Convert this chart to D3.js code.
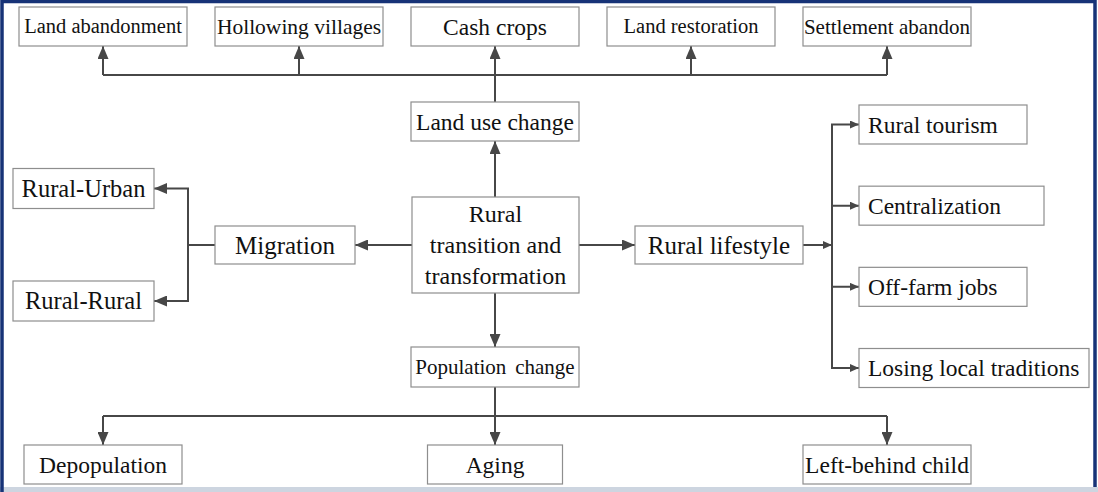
<!DOCTYPE html>
<html>
<head>
<meta charset="utf-8">
<script src="https://cdn.jsdelivr.net/npm/d3@7"></script>
<style>
  html, body { margin: 0; padding: 0; background: #fff; }
  svg { display: block; }
  .box rect { fill: #fff; stroke: #8e8e8e; stroke-width: 1.2; }
  .box text { font-family: "Liberation Serif", "Times New Roman", serif; fill: #111; text-anchor: middle; }
  .link { fill: none; stroke: #474747; stroke-width: 2; }
</style>
</head>
<body>
<svg id="chart" width="1098" height="492"></svg>
<script>
// labels
const rootLabel = ['Rural', 'transition and', 'transformation'];
const landUseLabel = 'Land use change';
const migrationLabel = 'Migration';
const lifestyleLabel = 'Rural lifestyle';
const populationLabel = 'Population change';
const landUseEffects = ['Land abandonment', 'Hollowing villages', 'Cash crops', 'Land restoration', 'Settlement abandon'];
const migrationTypes = ['Rural-Urban', 'Rural-Rural'];
const lifestyleEffects = ['Rural tourism', 'Centralization', 'Off-farm jobs', 'Losing local traditions'];
const populationEffects = ['Depopulation', 'Aging', 'Left-behind child'];
const populationCols = [0, 2, 4];   // which top column each bottom box sits under

const W = 1098, H = 492;
const svg = d3.select('#chart');

// layout scales
const colX = d3.scaleLinear().domain([0, landUseEffects.length - 1]).range([103, 887]);
const rightY = d3.scaleLinear().domain([0, lifestyleEffects.length - 1]).range([124.5, 368]);
const leftY = d3.scaleLinear().domain([0, migrationTypes.length - 1]).range([188.5, 301]);

const topW = [168, 168, 168, 168, 168];
const topFont = [20.5, 21.5, 23.5, 20.5, 21];
const rightW = [168, 185, 168, 230];
const bottomW = [158, 135, 168];

// frame
svg.append('rect').attr('x', 0).attr('y', 0).attr('width', W).attr('height', H).attr('fill', '#fff');
svg.append('rect').attr('x', 0).attr('y', 487).attr('width', W).attr('height', 5).attr('fill', '#cdd5e0');
svg.append('path')
	.attr('d', 'M2,492 V1.5 H1095 V487')
	.attr('fill', 'none')
	.attr('stroke', '#173377')
	.attr('stroke-width', 3.5);

// arrow markers
const defs = svg.append('defs');
function addMarker(id, len, wid) {
	defs.append('marker')
		.attr('id', id)
		.attr('markerUnits', 'userSpaceOnUse')
		.attr('viewBox', '0 0 ' + len + ' ' + wid)
		.attr('refX', len).attr('refY', wid / 2)
		.attr('markerWidth', len).attr('markerHeight', wid)
		.attr('orient', 'auto')
		.append('path')
		.attr('d', 'M0,0 L' + len + ',' + (wid / 2) + ' L0,' + wid + ' Z')
		.attr('fill', '#474747');
}
addMarker('arrow', 13, 11);
addMarker('arrowSmall', 9, 8);

// nodes: {label(s), cx, cy, w, h, font}
const nodes = [];
nodes.push({lines: rootLabel, cx: 495.5, cy: 245, w: 167, h: 96, font: 24});
nodes.push({lines: [landUseLabel], cx: 495, cy: 121.5, w: 168, h: 39, font: 23.5});
nodes.push({lines: [migrationLabel], cx: 285, cy: 245, w: 140, h: 38, font: 25});
nodes.push({lines: [lifestyleLabel], cx: 719, cy: 245, w: 168, h: 38, font: 25});
nodes.push({lines: [populationLabel], cx: 495, cy: 367, w: 168, h: 40, font: 21, spacing: 1.2});
landUseEffects.forEach((d, i) => nodes.push({lines: [d], cx: colX(i), cy: 26.5, w: topW[i], h: 39, font: topFont[i]}));
migrationTypes.forEach((d, i) => nodes.push({lines: [d], cx: 83.5, cy: leftY(i), w: 141, h: 40, font: 24.5}));
lifestyleEffects.forEach((d, i) => nodes.push({lines: [d], cx: 859 + rightW[i] / 2, cy: rightY(i), w: rightW[i], h: 39, font: 23.5, anchor: 'start'}));
populationEffects.forEach((d, i) => nodes.push({lines: [d], cx: colX(populationCols[i]), cy: 464.5, w: bottomW[i], h: 39, font: 23.5}));

// links as polylines
const links = [];
const arrow = (pts, marker) => links.push({pts: pts, marker: marker || 'arrow'});
const none = (pts) => links.push({pts: pts, marker: null});

// up: land use
arrow([[495, 197], [495, 141]]);
arrow([[495, 102], [495, 46]]);
none([[colX(0), 75], [colX(4), 75]]);
landUseEffects.forEach((d, i) => { if (i !== 2) arrow([[colX(i), 75], [colX(i), 46]]); });
// left: migration
arrow([[412, 245], [355, 245]]);
none([[215, 245], [188, 245]]);
migrationTypes.forEach((d, i) => arrow([[188, 245], [188, leftY(i)], [154, leftY(i)]]));
// right: lifestyle
arrow([[579, 245], [635, 245]]);
arrow([[803, 245], [832, 245]], 'arrowSmall');
lifestyleEffects.forEach((d, i) => arrow([[832, 245], [832, rightY(i)], [859, rightY(i)]], 'arrowSmall'));
// down: population
arrow([[495, 293], [495, 347]]);
none([[495, 387], [495, 416]]);
none([[colX(0), 416], [colX(4), 416]]);
populationEffects.forEach((d, i) => arrow([[colX(populationCols[i]), 416], [colX(populationCols[i]), 445]]));

const line = d3.line();

svg.append('g').attr('class', 'links')
	.selectAll('path')
	.data(links)
	.enter().append('path')
	.attr('class', 'link')
	.attr('d', (d) => line(d.pts))
	.attr('marker-end', (d) => d.marker ? 'url(#' + d.marker + ')' : null);

const box = svg.append('g').attr('class', 'nodes')
	.selectAll('.box')
	.data(nodes)
	.enter().append('g')
	.attr('class', 'box')
	.attr('transform', (d) => 'translate(' + d.cx + ',' + d.cy + ')');

box.append('rect')
	.attr('x', (d) => -d.w / 2)
	.attr('y', (d) => -d.h / 2)
	.attr('width', (d) => d.w)
	.attr('height', (d) => d.h);

box.each(function(d) {
	const g = d3.select(this);
	const lh = d.font * 1.28;
	const y0 = -(d.lines.length - 1) * lh / 2;
	d.lines.forEach((t, j) => {
		g.append('text')
			.attr('x', d.anchor === 'start' ? -d.w / 2 + 9 : 0)
			.attr('y', y0 + j * lh)
			.attr('dy', '0.34em')
			.style('text-anchor', d.anchor || 'middle')
			.style('font-size', d.font + 'px')
			.style('word-spacing', d.spacing ? (d.spacing * 3) + 'px' : null)
			.text(t);
	});
});
</script>
</body>
</html>
